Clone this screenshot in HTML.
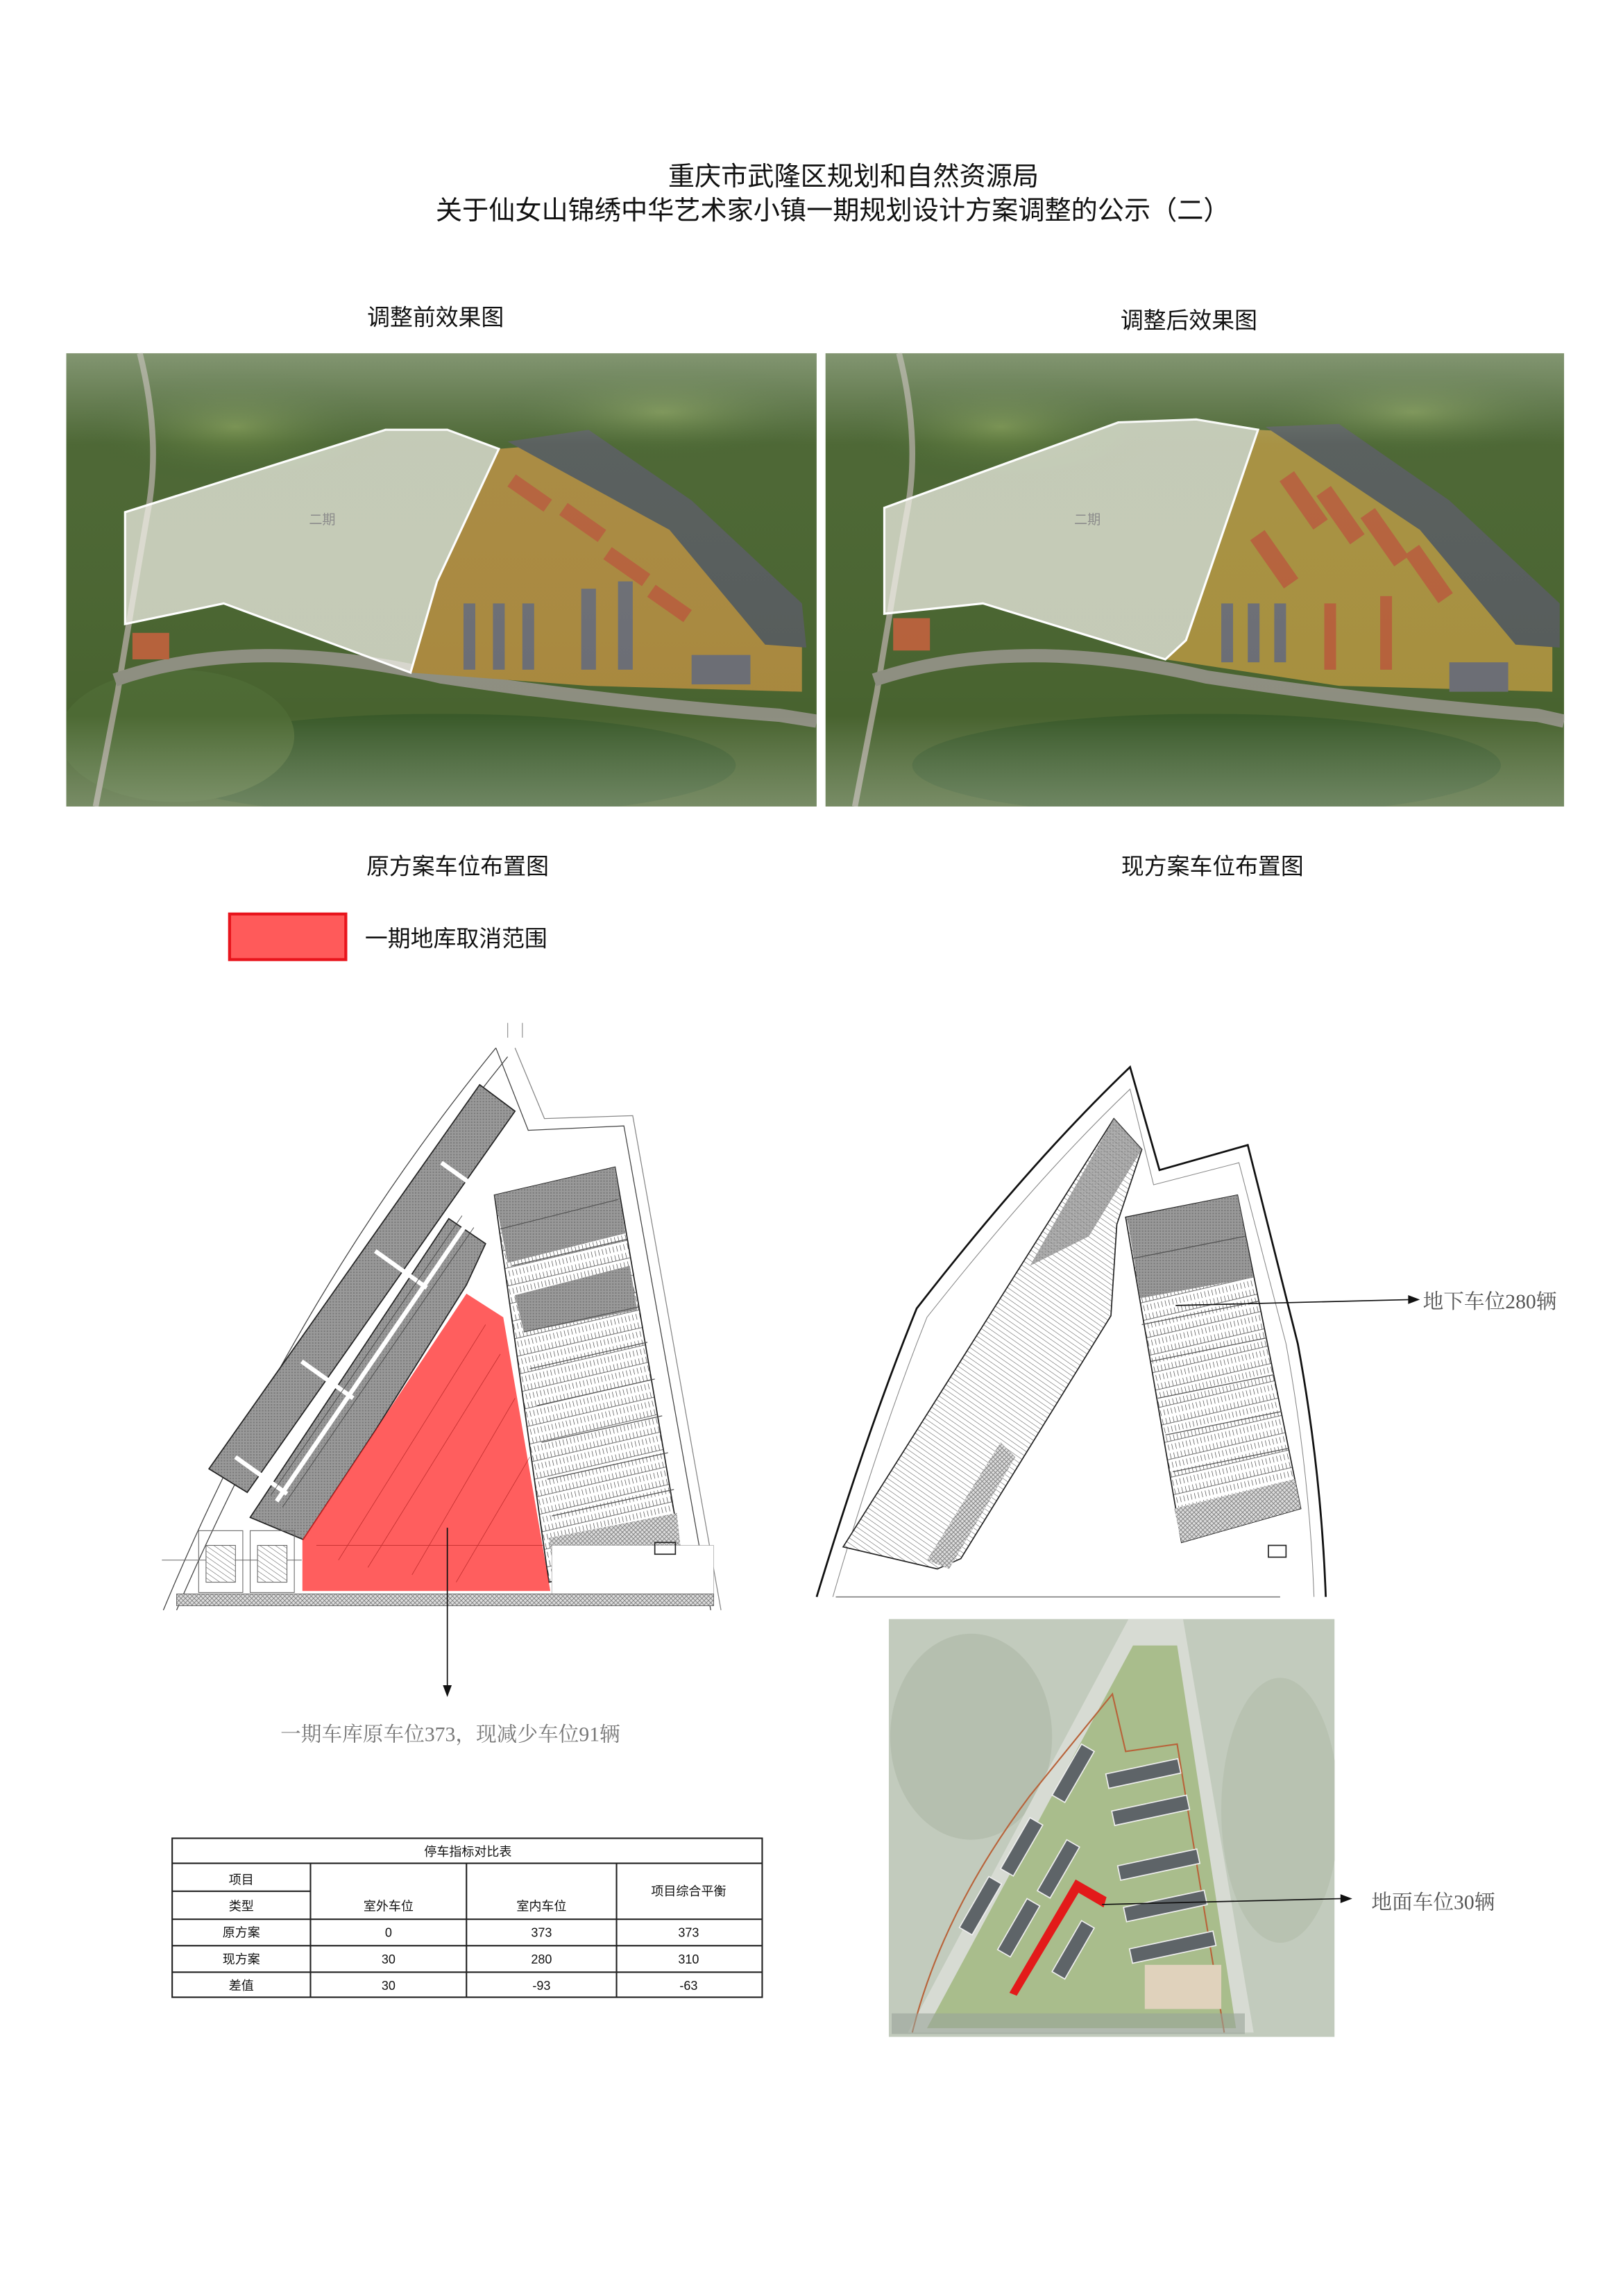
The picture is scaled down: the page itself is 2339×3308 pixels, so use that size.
<!DOCTYPE html>
<html><head><meta charset="utf-8"><style>
html,body{margin:0;padding:0;background:#fff}
svg{display:block}
text{font-family:"Liberation Sans","Noto Sans CJK SC",sans-serif}
.s{font-family:"Liberation Serif","Noto Serif CJK SC",serif}
</style></head><body>
<svg width="2339" height="3308" viewBox="0 0 1103 1560" xmlns="http://www.w3.org/2000/svg">
<defs>
<clipPath id="c1"><rect x="45" y="240" width="510" height="308"/></clipPath>
<clipPath id="c2"><rect x="561" y="240" width="502" height="308"/></clipPath>
<clipPath id="c3"><rect x="604" y="1100" width="303" height="284"/></clipPath>
<linearGradient id="haze" x1="0" y1="0" x2="0" y2="1">
<stop offset="0" stop-color="#c9d3c2" stop-opacity=".45"/><stop offset=".2" stop-color="#c8d3c3" stop-opacity=".05"/><stop offset=".8" stop-color="#fff" stop-opacity="0"/><stop offset="1" stop-color="#e8ece4" stop-opacity=".3"/></linearGradient>
<radialGradient id="fx" cx=".5" cy=".5" r=".5"><stop offset="0" stop-color="#6f8a45"/><stop offset="1" stop-color="#3b5a2a" stop-opacity="0"/></radialGradient>
<pattern id="stall" width="3" height="3" patternUnits="userSpaceOnUse" patternTransform="rotate(-55)"><rect width="3" height="3" fill="#fff"/><line x1="0" y1="0" x2="0" y2="3" stroke="#555" stroke-width=".5"/></pattern>
<pattern id="stall2" width="2.5" height="12" patternUnits="userSpaceOnUse" patternTransform="rotate(-13)"><rect width="2.5" height="12" fill="#fff"/><line x1="0" y1="1" x2="0" y2="5" stroke="#333" stroke-width=".6"/><line x1="0" y1="7" x2="0" y2="11" stroke="#333" stroke-width=".6"/><line x1="0" y1="5" x2="2.5" y2="5" stroke="#555" stroke-width=".4"/></pattern>
<pattern id="grey" width="2" height="2" patternUnits="userSpaceOnUse"><rect width="2" height="2" fill="#9a9a9a"/><rect width="1" height="1" fill="#7a7a7a"/></pattern>
<pattern id="cross" width="3" height="3" patternUnits="userSpaceOnUse"><rect width="3" height="3" fill="#ddd"/><path d="M0 0L3 3M3 0L0 3" stroke="#777" stroke-width=".4"/></pattern>
</defs>

<!-- Titles -->
<text x="580" y="126" font-size="18" text-anchor="middle" fill="#111">重庆市武隆区规划和自然资源局</text>
<text x="566" y="149" font-size="18" text-anchor="middle" fill="#111">关于仙女山锦绣中华艺术家小镇一期规划设计方案调整的公示（二）</text>
<text x="296" y="221" font-size="15.5" text-anchor="middle" fill="#111">调整前效果图</text>
<text x="808" y="223" font-size="15.5" text-anchor="middle" fill="#111">调整后效果图</text>

<!-- Left photo -->
<g clip-path="url(#c1)">
<rect x="45" y="240" width="510" height="308" fill="#48632f"/>
<ellipse cx="160" cy="290" rx="110" ry="40" fill="url(#fx)"/>
<ellipse cx="450" cy="280" rx="120" ry="35" fill="url(#fx)"/>
<ellipse cx="300" cy="520" rx="200" ry="35" fill="#3a5a2a"/>
<ellipse cx="120" cy="500" rx="80" ry="45" fill="#4d6a34"/>
<path d="M95 240 Q110 300 100 350 Q88 420 80 470 L65 548" stroke="#9a9a88" stroke-width="4" fill="none"/>
<path d="M78 462 Q170 430 300 460 Q420 478 530 486 L555 490" stroke="#8d8e80" stroke-width="9" fill="none"/>
<path d="M339 305 L400 300 L480 350 L545 420 L545 470 L400 466 L279 457 L297 395 Z" fill="#a8883e"/>
<path d="M345 300 L400 292 L470 340 L545 410 L548 440 L520 438 L455 360 Z" fill="#555b5a"/>
<g fill="#b5603a"><rect x="345" y="330" width="30" height="10" transform="rotate(35 360 335)"/><rect x="380" y="350" width="32" height="10" transform="rotate(35 396 355)"/><rect x="410" y="380" width="32" height="10" transform="rotate(35 426 385)"/><rect x="440" y="405" width="30" height="10" transform="rotate(35 455 410)"/><rect x="90" y="430" width="25" height="18"/></g>
<g fill="#6b6d74"><rect x="315" y="410" width="8" height="45"/><rect x="335" y="410" width="8" height="45"/><rect x="355" y="410" width="8" height="45"/><rect x="395" y="400" width="10" height="55"/><rect x="420" y="395" width="10" height="60"/><rect x="470" y="445" width="40" height="20"/></g>
<path d="M85 348 L262 292 L304 292 L339 305 L297 395 L279 457 L152 410 L85 424 Z" fill="#f4f2ea" fill-opacity=".72" stroke="#fff" stroke-width="1.5"/>
<text x="219" y="356" font-size="9" text-anchor="middle" fill="#888">二期</text>
<rect x="45" y="240" width="510" height="308" fill="url(#haze)"/>
</g>

<!-- Right photo -->
<g clip-path="url(#c2)">
<rect x="561" y="240" width="502" height="308" fill="#48632f"/>
<ellipse cx="680" cy="290" rx="110" ry="40" fill="url(#fx)"/>
<ellipse cx="960" cy="280" rx="120" ry="35" fill="url(#fx)"/>
<ellipse cx="820" cy="520" rx="200" ry="35" fill="#3a5a2a"/>
<path d="M611 240 Q626 300 616 350 Q604 420 596 470 L581 548" stroke="#9a9a88" stroke-width="4" fill="none"/>
<path d="M594 462 Q690 430 820 460 Q940 478 1045 486 L1063 490" stroke="#8d8e80" stroke-width="9" fill="none"/>
<path d="M855 292 L910 295 L990 350 L1055 420 L1055 470 L910 466 L792 448 L806 435 Z" fill="#a68f3e"/>
<path d="M860 290 L910 288 L985 340 L1060 410 L1060 440 L1030 438 L965 360 Z" fill="#555b5a"/>
<g fill="#b5603a"><rect x="880" y="320" width="12" height="40" transform="rotate(-35 886 340)"/><rect x="905" y="330" width="12" height="40" transform="rotate(-35 911 350)"/><rect x="935" y="345" width="12" height="40" transform="rotate(-35 941 365)"/><rect x="965" y="370" width="12" height="40" transform="rotate(-35 971 390)"/><rect x="860" y="360" width="12" height="40" transform="rotate(-35 866 380)"/><rect x="607" y="420" width="25" height="22"/><rect x="900" y="410" width="8" height="45"/><rect x="938" y="405" width="8" height="50"/></g>
<g fill="#6b6d74"><rect x="830" y="410" width="8" height="40"/><rect x="848" y="410" width="8" height="40"/><rect x="866" y="410" width="8" height="40"/><rect x="985" y="450" width="40" height="20"/></g>
<path d="M601 345 L760 287 L813 285 L855 292 L806 435 L792 448 L668 410 L601 417 Z" fill="#f4f2ea" fill-opacity=".72" stroke="#fff" stroke-width="1.5"/>
<text x="739" y="356" font-size="9" text-anchor="middle" fill="#888">二期</text>
<rect x="561" y="240" width="502" height="308" fill="url(#haze)"/>
</g>

<text x="311" y="594" font-size="15.5" text-anchor="middle" fill="#111">原方案车位布置图</text>
<text x="824" y="594" font-size="15.5" text-anchor="middle" fill="#111">现方案车位布置图</text>
<rect x="156" y="621" width="79" height="31" fill="#ff5a5a" stroke="#e8141c" stroke-width="2"/>
<text x="248" y="643" font-size="15.5" fill="#111">一期地库取消范围</text>

<!-- Left plan -->
<g stroke="#444" fill="none" stroke-width=".6">
<path d="M111 1094 Q200 880 337 712"/>
<path d="M120 1094 Q210 885 345 718"/>
<path d="M337 712 L359 768 L424 765 L483 1094"/>
<path d="M350 712 L370 760 L430 758 L490 1094" stroke="#888"/>
<path d="M345 695 L345 705 M355 695 L355 705" stroke="#999"/>
</g>
<polygon points="142,998 326,737 350,755 168,1014" fill="url(#grey)" stroke="#222" stroke-width=".8"/>
<polygon points="170,1031 305,828 330,845 317,873 255,972 206,1046" fill="url(#grey)" stroke="#222" stroke-width=".8"/>
<g stroke="#fff" stroke-width="3"><line x1="188" y1="1020" x2="318" y2="830"/><line x1="160" y1="990" x2="195" y2="1015"/><line x1="205" y1="925" x2="240" y2="950"/><line x1="255" y1="850" x2="290" y2="875"/><line x1="300" y1="790" x2="335" y2="815"/></g>
<g stroke="#444" stroke-width=".4"><line x1="192" y1="1024" x2="322" y2="834"/><line x1="184" y1="1016" x2="314" y2="826"/></g>
<polygon points="336,812 418,793 463,1056 373,1075" fill="url(#stall2)" stroke="#222" stroke-width=".8"/>
<polygon points="336,812 418,793 425,838 345,858" fill="url(#grey)"/>
<polygon points="350,880 428,860 433,890 356,905" fill="url(#grey)"/>
<g stroke="#555" stroke-width=".6">
<line x1="340" y1="835" x2="420" y2="815"/><line x1="348" y1="860" x2="426" y2="842"/><line x1="356" y1="905" x2="434" y2="888"/><line x1="360" y1="930" x2="440" y2="912"/><line x1="365" y1="955" x2="445" y2="937"/><line x1="368" y1="980" x2="450" y2="962"/><line x1="372" y1="1005" x2="454" y2="987"/><line x1="375" y1="1030" x2="458" y2="1012"/></g>
<polygon points="373,1045 460,1028 463,1056 378,1075" fill="url(#cross)"/>
<g stroke="#666" stroke-width=".5" fill="none"><rect x="135" y="1040" width="30" height="42"/><rect x="170" y="1040" width="30" height="42"/><line x1="110" y1="1060" x2="205" y2="1060"/><rect x="140" y="1050" width="20" height="25" fill="url(#stall)"/><rect x="175" y="1050" width="20" height="25" fill="url(#stall)"/></g>
<rect x="375" y="1050" width="110" height="35" fill="#fff" stroke="#999" stroke-width=".3"/>
<rect x="120" y="1083" width="365" height="8" fill="url(#cross)" stroke="#555" stroke-width=".4"/>
<rect x="445" y="1048" width="14" height="8" fill="none" stroke="#222" stroke-width=".8"/>
<polygon points="317,879 342,895 374,1081 205.5,1081 205.5,1046 255,972" fill="#ff2020" fill-opacity=".72"/>
<g stroke="#9b1010" stroke-width=".4" opacity=".6"><line x1="230" y1="1060" x2="330" y2="900"/><line x1="250" y1="1065" x2="340" y2="920"/><line x1="280" y1="1070" x2="350" y2="950"/><line x1="310" y1="1075" x2="360" y2="990"/><line x1="215" y1="1050" x2="370" y2="1050"/></g>
<line x1="304" y1="1038" x2="304" y2="1146" stroke="#111" stroke-width=".8"/>
<polygon points="301,1145 307,1145 304,1153" fill="#111"/>
<text x="306" y="1183" font-size="14" text-anchor="middle" fill="#777" class="s">一期车库原车位373，现减少车位91辆</text>

<!-- Table -->
<g stroke="#222" stroke-width="1" fill="none">
<rect x="117" y="1249" width="401" height="108"/>
<line x1="117" y1="1266" x2="518" y2="1266"/>
<line x1="117" y1="1285" x2="211" y2="1285"/>
<line x1="117" y1="1304" x2="518" y2="1304"/>
<line x1="117" y1="1322" x2="518" y2="1322"/>
<line x1="117" y1="1340" x2="518" y2="1340"/>
<line x1="211" y1="1266" x2="211" y2="1357"/>
<line x1="317" y1="1266" x2="317" y2="1357"/>
<line x1="419" y1="1266" x2="419" y2="1357"/>
</g>
<g font-size="8.5" fill="#111" text-anchor="middle">
<text x="318" y="1261">停车指标对比表</text>
<text x="164" y="1280">项目</text>
<text x="164" y="1298">类型</text>
<text x="264" y="1298">室外车位</text>
<text x="368" y="1298">室内车位</text>
<text x="468" y="1288">项目综合平衡</text>
<text x="164" y="1316">原方案</text><text x="264" y="1316">0</text><text x="368" y="1316">373</text><text x="468" y="1316">373</text>
<text x="164" y="1334">现方案</text><text x="264" y="1334">30</text><text x="368" y="1334">280</text><text x="468" y="1334">310</text>
<text x="164" y="1352">差值</text><text x="264" y="1352">30</text><text x="368" y="1352">-93</text><text x="468" y="1352">-63</text>
</g>

<!-- Right plan -->
<path d="M555 1085 Q590 970 623 889 Q700 790 768 725 L788 795 L848 778 L882 913 Q898 1000 901 1085" fill="none" stroke="#111" stroke-width="1.3"/>
<path d="M566 1085 Q598 975 630 895 Q705 800 768 740 L784 805 L842 790 L874 913 Q890 1000 893 1085" fill="none" stroke="#888" stroke-width=".5"/>
<polygon points="573,1051 757,760 776,781 759,832 755,894 653,1059 637,1066" fill="url(#stall)" stroke="#222" stroke-width=".8"/>
<polygon points="700,860 757,760 776,781 740,840" fill="url(#grey)" opacity=".8"/>
<polygon points="630,1060 680,980 690,990 645,1066" fill="url(#cross)"/>
<polygon points="765,827 841,812 884,1025 803,1048" fill="url(#stall2)" stroke="#222" stroke-width=".8"/>
<polygon points="766,827 841,812 852,868 775,882" fill="url(#grey)"/>
<g stroke="#555" stroke-width=".6">
<line x1="770" y1="855" x2="846" y2="840"/><line x1="776" y1="900" x2="856" y2="884"/><line x1="782" y1="925" x2="861" y2="909"/><line x1="787" y1="950" x2="866" y2="934"/><line x1="792" y1="975" x2="871" y2="959"/><line x1="797" y1="1000" x2="876" y2="984"/></g>
<polygon points="798,1025 880,1005 884,1025 803,1048" fill="url(#cross)"/>
<rect x="862" y="1050" width="12" height="8" fill="none" stroke="#222" stroke-width=".8"/>
<line x1="568" y1="1085" x2="870" y2="1085" stroke="#888" stroke-width=".8"/>
<line x1="799" y1="887" x2="958" y2="883" stroke="#111" stroke-width=".8"/>
<polygon points="957,880 965,883 957,886" fill="#111"/>
<text x="967" y="889" font-size="14" fill="#555" class="s">地下车位280辆</text>

<!-- Site plan -->
<g clip-path="url(#c3)">
<rect x="604" y="1100" width="303" height="284" fill="#c2cbbd"/>
<ellipse cx="660" cy="1180" rx="55" ry="70" fill="#b5bfaf"/>
<ellipse cx="870" cy="1230" rx="40" ry="90" fill="#b8c2b1"/>
<polygon points="617,1381 767,1100 804,1100 852,1381" fill="#d7dbd3"/>
<polygon points="630,1378 770,1118 800,1118 840,1378" fill="#a9bd8c"/>
<path d="M620 1381 Q640 1300 700 1220 L756 1151 L765 1190 L800 1185 L832 1381" fill="none" stroke="#b8633a" stroke-width="1"/>
<g fill="#5e6468" stroke="#eee" stroke-width=".8">
<rect x="0" y="0" width="10" height="40" transform="translate(735 1185) rotate(30)"/>
<rect x="0" y="0" width="10" height="40" transform="translate(700 1235) rotate(30)"/>
<rect x="0" y="0" width="10" height="40" transform="translate(672 1275) rotate(30)"/>
<rect x="0" y="0" width="10" height="40" transform="translate(725 1250) rotate(30)"/>
<rect x="0" y="0" width="10" height="40" transform="translate(698 1290) rotate(30)"/>
<rect x="0" y="0" width="10" height="40" transform="translate(735 1305) rotate(30)"/>
<rect x="752" y="1200" width="50" height="10" transform="rotate(-12 777 1205)"/>
<rect x="756" y="1225" width="52" height="10" transform="rotate(-12 782 1230)"/>
<rect x="760" y="1262" width="55" height="10" transform="rotate(-12 787 1267)"/>
<rect x="764" y="1290" width="56" height="10" transform="rotate(-12 792 1295)"/>
<rect x="768" y="1318" width="58" height="10" transform="rotate(-12 797 1323)"/>
</g>
<rect x="778" y="1335" width="52" height="30" fill="#e0d2bc"/>
<rect x="606" y="1368" width="240" height="14" fill="#9aa39a" opacity=".6"/>
<polygon points="686,1354 731,1277 752,1289 750,1296 733,1286 691,1356" fill="#e31a1a"/>
</g>
<line x1="749" y1="1294" x2="912" y2="1290" stroke="#111" stroke-width=".8"/>
<polygon points="911,1287 919,1290 911,1293" fill="#111"/>
<text x="932" y="1297" font-size="14" fill="#555" class="s">地面车位30辆</text>
</svg>
</body></html>
